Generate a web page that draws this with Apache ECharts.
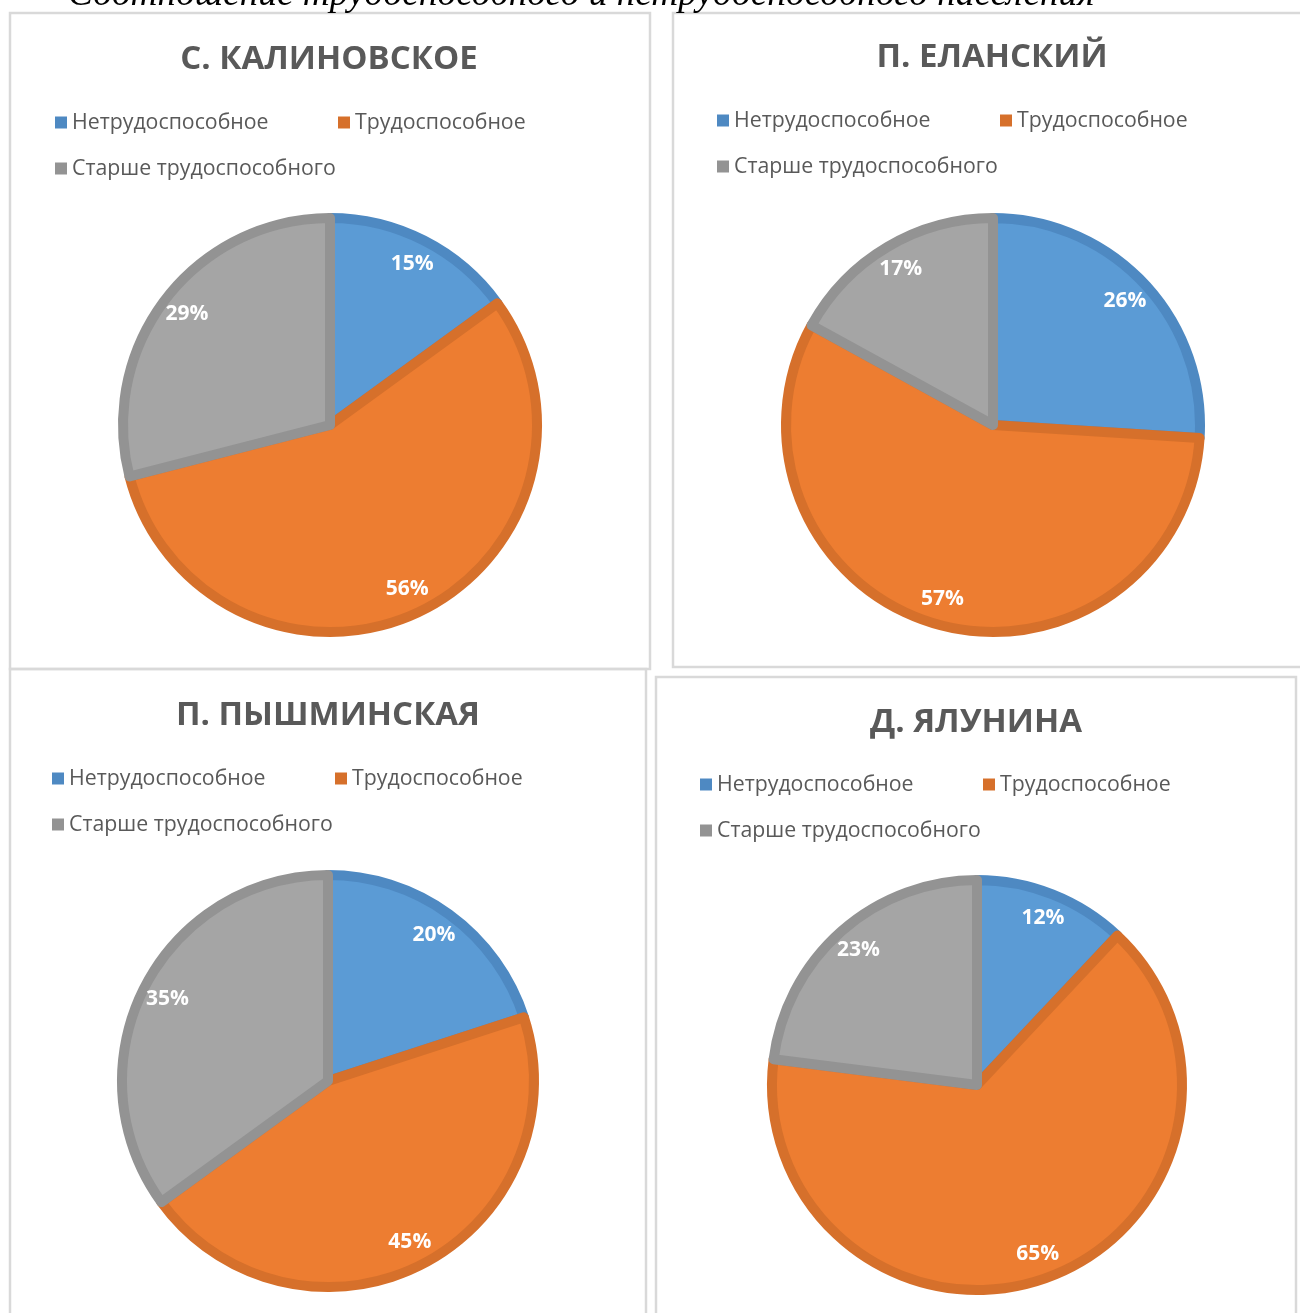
<!DOCTYPE html>
<html>
<head>
<meta charset="utf-8">
<script src="https://cdn.jsdelivr.net/npm/echarts@6/dist/echarts.min.js"></script>
<style>
html,body{margin:0;padding:0;background:#fff;}
#chart{width:1300px;height:1313px;}
</style>
</head>
<body>
<div id="chart"></div>
<script>
// ---- data ----
const pageTitle = 'Соотношение трудоспособного и нетрудоспособного населения';
const categories = ['Нетрудоспособное', 'Трудоспособное', 'Старше трудоспособного'];
const settlements = ['С. КАЛИНОВСКОЕ', 'П. ЕЛАНСКИЙ', 'П. ПЫШМИНСКАЯ', 'Д. ЯЛУНИНА'];
const kalinovskoe = [15, 56, 29];
const elansky = [26, 57, 17];
const pyshminskaya = [20, 45, 35];
const yalunina = [12, 65, 23];
const seriesValues = [kalinovskoe, elansky, pyshminskaya, yalunina];

// ---- styling / layout ----
const fills = ['#5B9BD5', '#ED7D31', '#A5A5A5'];
const borders = ['#4E89C2', '#D6702B', '#939393'];
const panels = [
  {x: 10, y: 13, w: 640, h: 656},
  {x: 673, y: 13, w: 640, h: 654},
  {x: 10, y: 669, w: 636, h: 700},
  {x: 656, y: 677, w: 640, h: 700}
];
const titlePos = [[329, 60], [992, 58], [328, 716], [976, 723]];
const legendPos = [[55, 112], [717, 110], [52, 768], [700, 774]];
const pieCenters = [[330, 425], [993, 425], [328, 1081], [977, 1085]];
const pieR = [212, 212, 211, 210];
const BW = 10;

const chart = echarts.init(document.getElementById('chart'), null, {renderer: 'canvas'});

const titles = [], legends = [], series = [];
settlements.forEach((name, i) => {
  titles.push({
    text: name,
    left: titlePos[i][0],
    top: titlePos[i][1] - 20,
    textAlign: 'center',
    padding: 0,
    textStyle: {fontFamily: 'Open Sans', fontWeight: 'bold', fontSize: 33, color: '#595959', lineHeight: 40}
  });
  legends.push({
    left: legendPos[i][0],
    top: legendPos[i][1],
    width: 560,
    padding: 0,
    orient: 'horizontal',
    itemWidth: 12,
    itemHeight: 12,
    itemGap: 25,
    icon: 'rect',
    selectedMode: false,
    data: categories.map((c, k) => ({name: c, itemStyle: {color: borders[k], borderWidth: 0}})),
    textStyle: {fontFamily: 'Open Sans', fontSize: 21.3, color: '#595959', width: 241, lineHeight: 20, padding: 0}
  });
  const data = categories.map((c, k) => ({
    name: c,
    value: seriesValues[i][k],
    itemStyle: {color: fills[k], borderColor: borders[k]}
  }));
  series.push({
    type: 'pie',
    name: name,
    center: pieCenters[i],
    radius: [0, pieR[i] - BW / 2],
    startAngle: 90,
    clockwise: true,
    silent: true,
    animation: false,
    itemStyle: {borderWidth: BW, borderJoin: 'round'},
    label: {show: false},
    labelLine: {show: false},
    data: data
  });
  series.push({
    type: 'pie',
    name: name + ' labels',
    center: pieCenters[i],
    radius: [pieR[i] * 0.68, pieR[i]],
    startAngle: 90,
    clockwise: true,
    silent: true,
    animation: false,
    itemStyle: {color: 'rgba(0,0,0,0)', borderWidth: 0},
    label: {show: true, position: 'inside', formatter: '{d}%', color: '#fff',
            fontFamily: 'Open Sans', fontWeight: 'bold', fontSize: 21},
    labelLine: {show: false},
    data: categories.map((c, k) => ({name: c, value: seriesValues[i][k]}))
  });
});

const graphics = panels.map(p => ({
  type: 'rect', silent: true, z: -10,
  shape: {x: p.x, y: p.y, width: p.w, height: p.h},
  style: {fill: 'none', stroke: '#D9D9D9', lineWidth: 2.5}
}));
graphics.push({
  type: 'text', silent: true,
  x: 68, y: -5,
  style: {text: pageTitle, font: 'italic 37.4px "Liberation Serif"', fill: '#000', verticalAlign: 'middle', align: 'left'}
});

chart.setOption({
  backgroundColor: '#fff',
  animation: false,
  title: titles,
  legend: legends,
  graphic: graphics,
  series: series
});
</script>
</body>
</html>
